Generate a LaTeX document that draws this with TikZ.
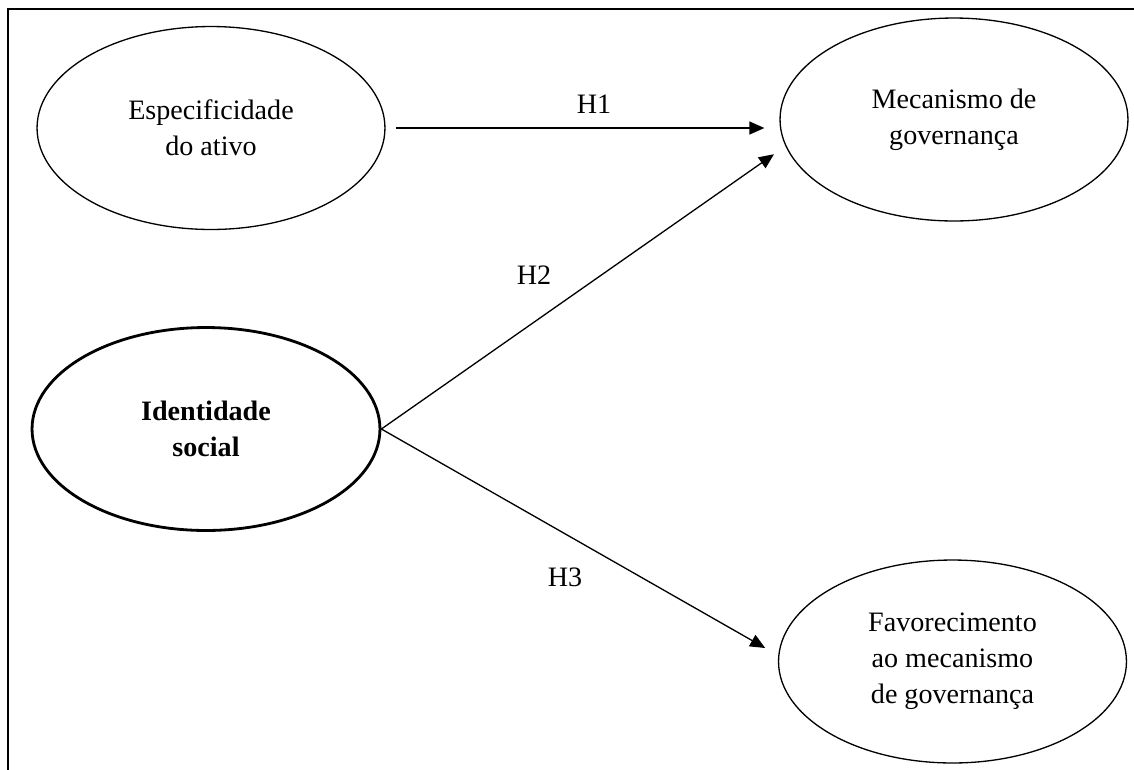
\documentclass[tikz,border=0pt]{standalone}
\usepackage{fontspec}
\setmainfont{Liberation Serif}
\usetikzlibrary{arrows.meta,shapes.geometric}
\tikzset{
	construto/.style={draw, ellipse, line width=0.75pt, minimum width=6.96cm, minimum height=4.06cm, align=center, font=\fontsize{16}{20.5}\selectfont},
	seta/.style={line width=0.75pt, -{Triangle[length=0.3cm, width=0.26cm]}},
	rotulo/.style={font=\fontsize{16}{20}\selectfont}
}

\begin{document}
\begin{tikzpicture}[x=0.02cm, y=-0.02cm]
			%%%%% START %%%%%
			
			\useasboundingbox (0, 0) rectangle (1134, 769);
			\draw[line width=0.9pt] (8, 9) rectangle (1150, 790);
			
			\node[construto] (esp) at (211, 128) {Especificidade\\do ativo};
			\node[construto] (mec) at (954, 119.5) {Mecanismo de\\governança};
			\node[construto, line width=1.6pt, font=\fontsize{16}{20.5}\selectfont\bfseries] (ide) at (206, 429) {Identidade\\social};
			\node[construto] (fav) at (952.5, 661.5) {Favorecimento\\ao mecanismo\\de governança};
			
			\draw[seta, shorten <=0.2cm, shorten >=0.3cm] (esp.east) -- (esp.east -| mec.west);
			\draw[seta, shorten >=0.28cm] (ide.east) -- (mec.189);
			\draw[seta, shorten >=0.3cm] (ide.east) -- (fav.178);
			
			\node[rotulo] (h1) at (594, 104) {H1};
			\node[rotulo] (h2) at (534, 275) {H2};
			\node[rotulo] (h3) at (565, 577) {H3};
			
			%%%%% END %%%%%
		\end{tikzpicture}
\end{document}
